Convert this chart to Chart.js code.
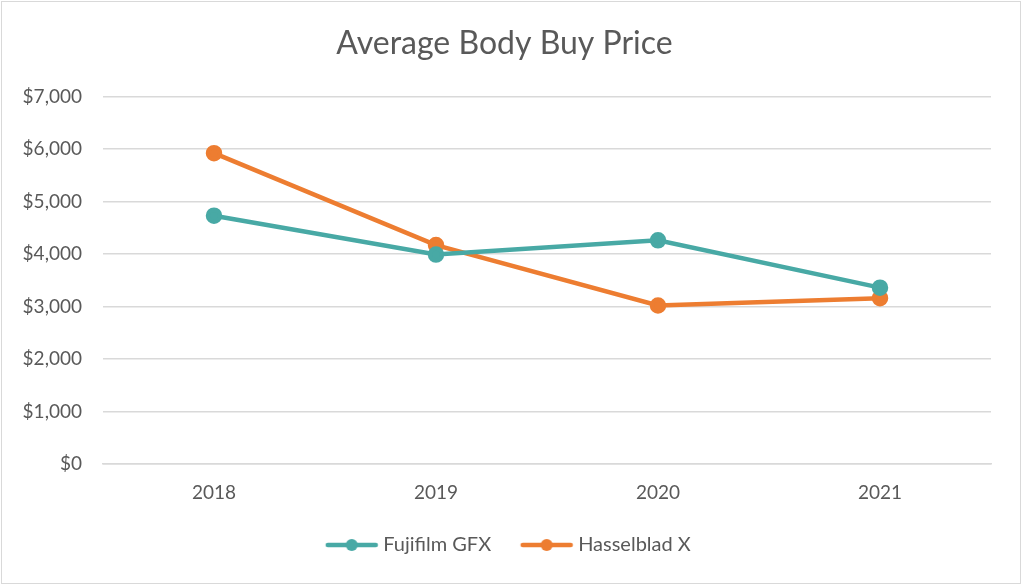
<!DOCTYPE html>
<html>
<head>
<meta charset="utf-8">
<script src="https://cdn.jsdelivr.net/npm/chart.js@4"></script>
<style>
  html, body { margin: 0; padding: 0; background: #fff; }
  #wrap { position: absolute; left: 1px; top: 1px; width: 1020px; height: 583px; border: 1px solid #d9d9d9; box-sizing: border-box; }
</style>
</head>
<body>
<div id="wrap"><canvas id="c" width="1018" height="581"></canvas></div>
<script>
const years = ['2018', '2019', '2020', '2021'];
const fujifilm = [4730, 3990, 4260, 3360];
const hasselblad = [5920, 4170, 3020, 3160];
const yTicks = [0, 1000, 2000, 3000, 4000, 5000, 6000, 7000];

const teal = '#48A9A5';
const orange = '#ED7D31';
const textColor = '#595959';

// line+dot sample for the legend, blank space on the left acts as item gap
function legendIcon(color) {
    const cv = document.createElement('canvas');
    cv.width = 66; cv.height = 14;
    const ctx = cv.getContext('2d');
    ctx.strokeStyle = color;
    ctx.lineWidth = 4.5;
    ctx.lineCap = 'round';
    ctx.beginPath();
    ctx.moveTo(15, 7);
    ctx.lineTo(63, 7);
    ctx.stroke();
    ctx.fillStyle = color;
    ctx.beginPath();
    ctx.arc(39, 7, 6, 0, Math.PI * 2);
    ctx.fill();
    return cv;
}

const icons = [legendIcon(teal), legendIcon(orange)];

new Chart(document.getElementById('c'), {
    type: 'line',
    data: {
        labels: years,
        datasets: [
            {
                label: 'Fujifilm GFX',
                data: fujifilm,
                borderColor: teal,
                backgroundColor: teal,
                borderWidth: 4.5,
                pointRadius: 6,
                pointHoverRadius: 6,
                tension: 0
            },
            {
                label: 'Hasselblad X',
                data: hasselblad,
                borderColor: orange,
                backgroundColor: orange,
                borderWidth: 4.5,
                pointRadius: 6,
                pointHoverRadius: 6,
                tension: 0
            }
        ]
    },
    options: {
        responsive: false,
        animation: false,
        layout: { padding: { left: 16, right: 29, top: 8, bottom: 18 } },
        plugins: {
            tooltip: { enabled: false },
            title: {
                display: true,
                text: 'Average Body Buy Price',
                color: textColor,
                font: { family: 'Lato', size: 32, weight: 'normal' },
                padding: { top: 14, bottom: 34 }
            },
            legend: {
                position: 'bottom',
                labels: {
                    color: textColor,
                    font: { family: 'Lato', size: 20 },
                    usePointStyle: true,
                    pointStyleWidth: 55,
                    padding: 22,
                    generateLabels: (chart) => chart.data.datasets.map((ds, i) => ({
                        text: ds.label,
                        pointStyle: icons[i],
                        fontColor: textColor,
                        datasetIndex: i,
                        hidden: false,
                        lineWidth: 0
                    }))
                }
            }
        },
        scales: {
            x: {
                offset: true,
                grid: { display: false },
                border: { color: '#d9d9d9', width: 1.5 },
                ticks: { color: textColor, font: { family: 'Lato', size: 19 }, padding: 9 }
            },
            y: {
                min: 0,
                max: 7000,
                afterBuildTicks: (axis) => { axis.ticks = yTicks.map(v => ({ value: v })); },
                afterFit: (axis) => { axis.width = 85; },
                grid: { color: '#d9d9d9', lineWidth: 1.5, drawTicks: false },
                border: { display: false },
                ticks: {
                    color: textColor,
                    font: { family: 'Lato', size: 19 },
                    padding: 21,
                    callback: (v) => '$' + v.toLocaleString('en-US')
                }
            }
        }
    }
});
</script>
</body>
</html>
